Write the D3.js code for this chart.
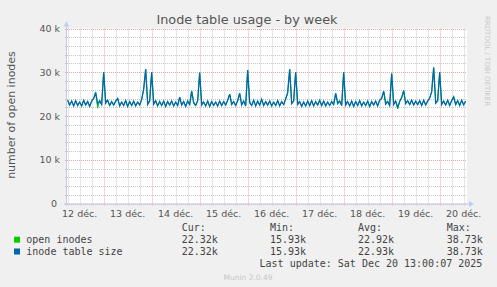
<!DOCTYPE html>
<html lang="en">
<head>
  <meta charset="utf-8">
  <title>Inode table usage - by week</title>
  <script src="https://d3js.org/d3.v7.min.js"></script>
  <style>
    body { margin: 0; background: #f0f0f0; }
    text { font-family: "DejaVu Sans", sans-serif; }
    .mono { font-family: "DejaVu Sans Mono", monospace; white-space: pre; }
  </style>
</head>
<body>
<div id="chart"></div>
<script>
// hourly samples, in thousands, starting 12 Dec 06:00
var inodeTableSize = [
  23.6, 22.5, 23.4, 22.3, 23.5, 22.4, 23.2, 22.3, 23.6, 22.5, 23.3, 22.2, 23.4, 24.0, 25.4, 22.8, 23.5, 22.6, 30.0, 22.9,
  23.6, 22.4, 23.3, 22.5, 23.4, 24.0, 22.3, 23.2, 22.4, 23.5, 22.2, 23.3, 22.4, 23.4, 22.3, 23.2, 22.5, 23.8, 26.1, 30.7,
  22.6, 23.4, 30.0, 22.7, 23.5, 22.3, 23.3, 22.4, 23.4, 22.2, 23.3, 22.5, 23.4, 22.3, 23.2, 22.4, 24.3, 22.5, 23.3, 22.2,
  23.4, 22.6, 25.7, 23.0, 22.4, 23.5, 29.9, 22.5, 23.2, 22.3, 23.4, 22.2, 23.3, 22.4, 23.2, 22.3, 23.4, 22.4, 23.3, 22.5,
  23.6, 25.0, 22.6, 23.3, 22.4, 23.5, 25.2, 22.5, 23.4, 22.3, 30.5, 23.0, 22.4, 23.6, 22.3, 23.4, 22.5, 23.8, 22.4, 23.3,
  22.5, 23.4, 22.3, 23.2, 22.4, 23.5, 22.3, 23.3, 22.6, 23.9, 25.3, 30.7, 22.8, 23.4, 30.0, 22.6, 23.3, 22.2, 23.2, 22.3,
  23.4, 22.4, 23.5, 22.3, 23.3, 22.5, 23.6, 22.4, 23.4, 22.3, 23.2, 22.4, 23.3, 22.6, 25.2, 22.8, 23.4, 22.4, 30.0, 22.5,
  23.3, 22.3, 23.4, 22.2, 23.3, 22.4, 23.5, 22.3, 23.2, 22.4, 23.4, 22.2, 23.3, 22.5, 23.4, 22.3, 23.6, 24.0, 25.7, 22.7,
  23.3, 22.4, 29.7, 22.6, 23.4, 22.0, 23.3, 24.2, 25.8, 22.8, 23.5, 22.6, 23.6, 22.5, 23.4, 22.6, 23.5, 22.4, 23.6, 22.5,
  23.4, 24.1, 25.5, 31.1, 22.9, 23.5, 30.0, 22.6, 23.4, 22.5, 23.6, 22.4, 23.5, 24.4, 22.6, 23.5, 22.4, 23.6, 22.5, 23.4
];
var openInodes = [
  23.6, 22.5, 23.4, 22.3, 23.5, 22.4, 23.2, 22.3, 23.6, 22.5, 23.3, 22.2, 23.4, 24.0, 25.4, 21.8, 23.5, 22.6, 30.0, 23.4,
  23.6, 22.4, 23.3, 22.5, 23.4, 24.0, 22.3, 23.2, 22.4, 23.5, 22.2, 23.3, 22.4, 23.4, 22.3, 23.2, 22.5, 23.8, 26.1, 30.7,
  23.2, 23.4, 30.0, 23.1, 23.5, 22.3, 23.3, 22.4, 23.4, 22.2, 23.3, 22.5, 23.4, 22.3, 23.2, 22.4, 24.3, 22.5, 23.3, 22.2,
  23.4, 22.6, 25.7, 23.3, 22.4, 23.5, 29.9, 23.0, 23.2, 22.3, 23.4, 22.2, 23.3, 22.4, 23.2, 22.3, 23.4, 22.4, 23.3, 22.5,
  23.6, 25.0, 22.9, 23.3, 22.4, 23.5, 25.2, 22.8, 23.4, 22.3, 30.5, 23.4, 22.4, 23.6, 22.3, 23.4, 22.5, 23.8, 22.4, 23.3,
  22.5, 23.4, 22.3, 23.2, 22.4, 23.5, 22.3, 23.3, 22.6, 23.9, 25.3, 30.7, 23.2, 23.4, 30.0, 23.0, 23.3, 22.2, 23.2, 22.3,
  23.4, 22.4, 23.5, 22.3, 23.3, 22.5, 23.6, 22.4, 23.4, 22.3, 23.2, 22.4, 23.3, 22.6, 25.2, 23.1, 23.4, 22.4, 30.0, 23.0,
  23.3, 22.3, 23.4, 22.2, 23.3, 22.4, 23.5, 22.3, 23.2, 22.4, 23.4, 22.2, 23.3, 22.5, 23.4, 22.3, 23.6, 24.0, 25.7, 23.1,
  23.3, 22.4, 29.7, 23.0, 23.4, 21.6, 23.3, 24.2, 25.8, 23.1, 23.5, 22.6, 23.6, 22.5, 23.4, 22.6, 23.5, 22.4, 23.6, 22.5,
  23.4, 24.1, 25.5, 31.1, 23.3, 23.5, 30.0, 23.0, 23.4, 22.5, 23.6, 22.4, 23.5, 24.4, 22.6, 23.5, 22.4, 23.6, 22.7, 23.4
];
var yTicks = [0, 10000, 20000, 30000, 40000];
var yTickLabels = ["0 ", "10 k", "20 k", "30 k", "40 k"];
var dayLabels = ["12 déc.", "13 déc.", "14 déc.", "15 déc.", "16 déc.", "17 déc.", "18 déc.", "19 déc.", "20 déc."];
var legendNames = ["open inodes", "inode table size"];
var legendColors = ["#00cc00", "#0066b3"];
var legendCur = ["22.32k", "22.32k"];
var legendMin = ["15.93k", "15.93k"];
var legendAvg = ["22.92k", "22.93k"];
var legendMax = ["38.73k", "38.73k"];

var W = 497, H = 287;
var plotLeft = 67, plotRight = 467, plotTop = 28.5, plotBottom = 203.5;
var tStart = new Date(2025, 11, 12, 5, 40), tEnd = new Date(2025, 11, 20, 13, 40);
var firstSample = new Date(2025, 11, 12, 6, 0);

var x = d3.scaleTime().domain([tStart, tEnd]).range([plotLeft, plotRight]);
var y = d3.scaleLinear().domain([0, 40000]).range([plotBottom, plotTop]);

var svg = d3.select('#chart').append('svg').attr('width', W).attr('height', H);
svg.append('rect').attr('width', W).attr('height', H).attr('fill', '#f0f0f0');
svg.append('rect').attr('x', plotLeft).attr('y', plotTop).attr('width', plotRight - plotLeft).attr('height', plotBottom - plotTop).attr('fill', '#fff');

function py(d) { return Math.round(y(d)) + 0.5; }
function px(d) { return Math.round(x(d)) + 0.5; }

// grid
var minorY = d3.range(0, 40001, 2000).filter(function(v) { return v % 10000 !== 0; });
svg.selectAll('.hminor').data(minorY).enter().append('line')
  .attr('x1', plotLeft - 2).attr('x2', plotRight).attr('y1', py).attr('y2', py)
  .attr('stroke', '#c8c8c8').attr('stroke-dasharray', '1,1');
var hours6 = d3.timeHour.every(6).range(tStart, tEnd);
svg.selectAll('.vgrid').data(hours6).enter().append('line')
  .attr('x1', px).attr('x2', px)
  .attr('y1', plotTop).attr('y2', plotBottom + 2)
  .attr('stroke', function(d) { return d.getHours() === 0 ? '#e8a8a8' : '#c8c8c8'; })
  .attr('stroke-dasharray', '1,1');
svg.selectAll('.hmajor').data(yTicks).enter().append('line')
  .attr('x1', plotLeft - 2).attr('x2', plotRight).attr('y1', py).attr('y2', py)
  .attr('stroke', '#e8a8a8').attr('stroke-dasharray', '1,1');

// y tick labels
svg.selectAll('.ylab').data(yTicks).enter().append('text')
  .style('white-space', 'pre')
  .attr('x', 60).attr('y', function(d) { return y(d) + 3.5; })
  .attr('text-anchor', 'end').attr('font-size', '9.5px').attr('fill', '#555')
  .text(function(d, i) { return yTickLabels[i]; });

// x labels at noon
var days = d3.timeDay.range(new Date(2025, 11, 12), new Date(2025, 11, 21));
svg.selectAll('.xlab').data(days).enter().append('text')
  .attr('x', function(d) { return x(d3.timeHour.offset(d, 12)); }).attr('y', 217)
  .attr('text-anchor', 'middle').attr('font-size', '9.5px').attr('fill', '#555')
  .text(function(d, i) { return dayLabels[i]; });

// series (blue drawn last, on top)
var line = d3.line()
  .x(function(d, i) { return x(d3.timeHour.offset(firstSample, i)); })
  .y(function(d) { return y(d * 1000); });
svg.append('path').datum(openInodes).attr('d', line).attr('fill', 'none').attr('stroke', legendColors[0]).attr('stroke-width', 1);
svg.append('path').datum(inodeTableSize).attr('d', line).attr('fill', 'none').attr('stroke', legendColors[1]).attr('stroke-width', 1.3);

// axes with arrows
var axisColor = '#c4cbf2';
svg.append('line').attr('x1', plotLeft - 0.5).attr('x2', plotLeft - 0.5).attr('y1', plotBottom + 2).attr('y2', plotTop - 4).attr('stroke', axisColor);
svg.append('line').attr('x1', plotLeft - 3).attr('x2', plotRight + 3).attr('y1', plotBottom + 0.5).attr('y2', plotBottom + 0.5).attr('stroke', axisColor);
svg.append('path').attr('d', 'M' + (plotLeft - 3.5) + ',' + (plotTop - 2) + 'L' + (plotLeft - 0.5) + ',' + (plotTop - 7) + 'L' + (plotLeft + 2.5) + ',' + (plotTop - 2) + 'Z').attr('fill', axisColor);
svg.append('path').attr('d', 'M' + (plotRight + 2) + ',' + (plotBottom - 2.5) + 'L' + (plotRight + 7) + ',' + (plotBottom + 0.5) + 'L' + (plotRight + 2) + ',' + (plotBottom + 3.5) + 'Z').attr('fill', axisColor);

// titles
svg.append('text').attr('x', 247).attr('y', 24).attr('text-anchor', 'middle')
  .attr('font-size', '12.8px').attr('fill', '#555').text('Inode table usage - by week');
svg.append('text').attr('transform', 'translate(15,115) rotate(-90)').attr('text-anchor', 'middle')
  .attr('font-size', '11px').attr('fill', '#555').text('number of open inodes');
svg.append('text').attr('transform', 'translate(485,16) rotate(90)')
  .attr('font-size', '7px').attr('fill', '#c8c8c8').text('RRDTOOL / TOBI OETIKER');

// legend
var cols = [181.7, 270, 358, 446.7];
var headers = ["Cur:", "Min:", "Avg:", "Max:"];
svg.selectAll('.hdr').data(headers).enter().append('text').attr('class', 'mono')
  .attr('x', function(d, i) { return cols[i]; }).attr('y', 231)
  .attr('font-size', '10px').attr('fill', '#444').text(function(d) { return d; });
legendNames.forEach(function(name, i) {
  var by = 242.7 + i * 11.8;
  svg.append('rect').attr('x', 14).attr('y', by - 6).attr('width', 6).attr('height', 6).attr('fill', legendColors[i]);
  svg.append('text').attr('class', 'mono').attr('x', 26.3).attr('y', by)
    .attr('font-size', '10px').attr('fill', '#444').text(name);
  [legendCur[i], legendMin[i], legendAvg[i], legendMax[i]].forEach(function(v, j) {
    svg.append('text').attr('class', 'mono').attr('x', cols[j]).attr('y', by)
      .attr('font-size', '10px').attr('fill', '#444').text(v);
  });
});
svg.append('text').attr('class', 'mono').attr('x', 482.3).attr('y', 266.7).attr('text-anchor', 'end')
  .attr('font-size', '10px').attr('fill', '#444').text('Last update: Sat Dec 20 13:00:07 2025');
svg.append('text').attr('x', 248).attr('y', 280).attr('text-anchor', 'middle')
  .attr('font-size', '7.5px').attr('fill', '#c8c8c8').text('Munin 2.0.49');
</script>
</body>
</html>
